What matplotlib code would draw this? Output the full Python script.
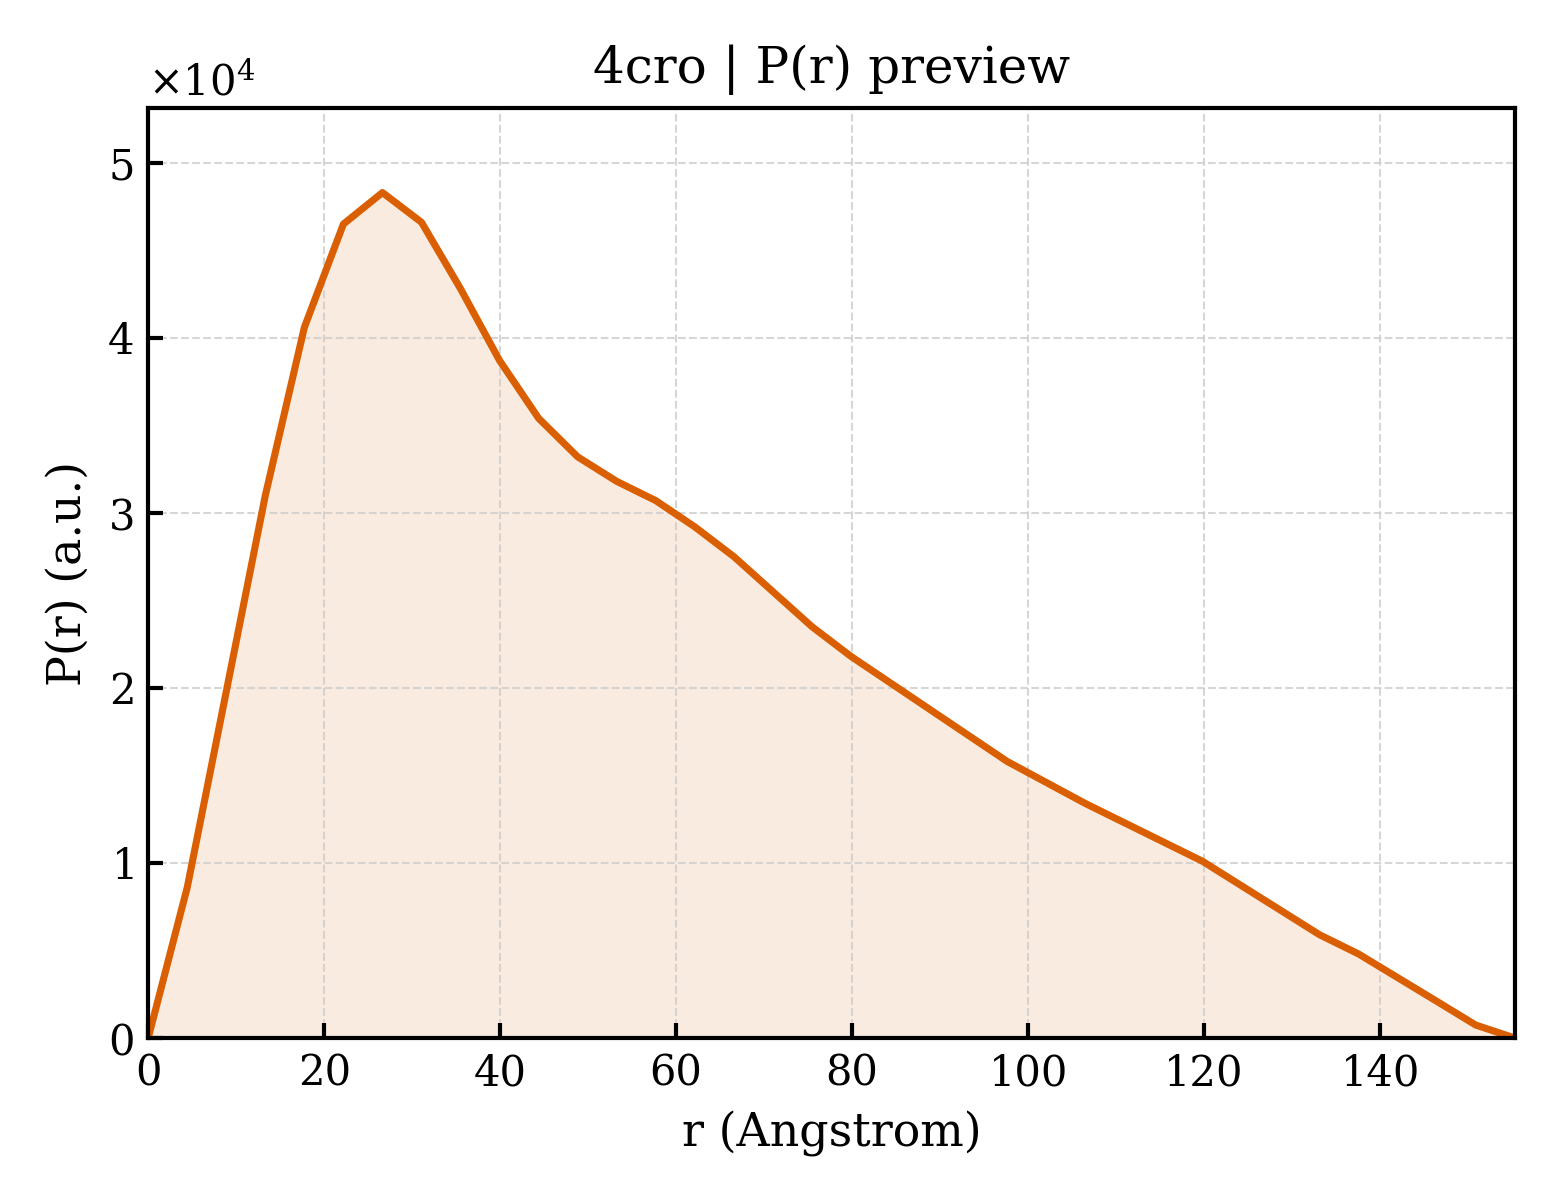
import numpy as np
import matplotlib
matplotlib.use("Agg")
import matplotlib.pyplot as plt

# P(r) curve, values
r_max = 155.3
r = np.linspace(0, r_max, 36)
pr = [0.0, 0.86e4, 1.98e4, 3.10e4, 4.06e4, 4.65e4, 4.83e4, 4.66e4, 4.28e4,
      3.87e4, 3.54e4, 3.32e4, 3.18e4, 3.07e4, 2.92e4, 2.75e4, 2.55e4, 2.35e4,
      2.18e4, 2.03e4, 1.88e4, 1.73e4, 1.58e4, 1.46e4, 1.34e4, 1.23e4, 1.12e4,
      1.01e4, 0.87e4, 0.73e4, 0.59e4, 0.48e4, 0.345e4, 0.21e4, 0.074e4, 0.0]
pr = np.array(pr)

title = "4cro | P(r) preview"
xlabel = "r (Angstrom)"
ylabel = "P(r) (a.u.)"
color = "#d95f02"

plt.rcParams['font.family'] = ['DejaVu Serif']
plt.rcParams['mathtext.fontset'] = 'dejavuserif'
plt.rcParams['axes.linewidth'] = 1.0

fig = plt.figure(figsize=(5.2, 4.0), dpi=300)
ax = fig.add_subplot(1, 1, 1)
fig.subplots_adjust(left=0.095, right=0.971, bottom=0.135, top=0.91)

ax.fill_between(r, pr, 0, color=color, alpha=0.12, linewidth=0)
ax.plot(r, pr, color=color, linewidth=1.7)

ax.set_xlim(0, r_max)
ax.set_ylim(0, pr.max() * 1.1)
ax.set_title(title, fontsize=12)
ax.set_xlabel(xlabel, fontsize=11)
ax.set_ylabel(ylabel, fontsize=11)
ax.ticklabel_format(axis='y', style='sci', scilimits=(0, 0), useMathText=True)
ax.tick_params(direction='in', labelsize=10, length=3.5, width=1.0)
ax.yaxis.get_offset_text().set_fontsize(10)
ax.grid(True, linestyle='--', linewidth=0.5, color='#cccccc', alpha=0.8)

fig.savefig("out.png", dpi=300)
